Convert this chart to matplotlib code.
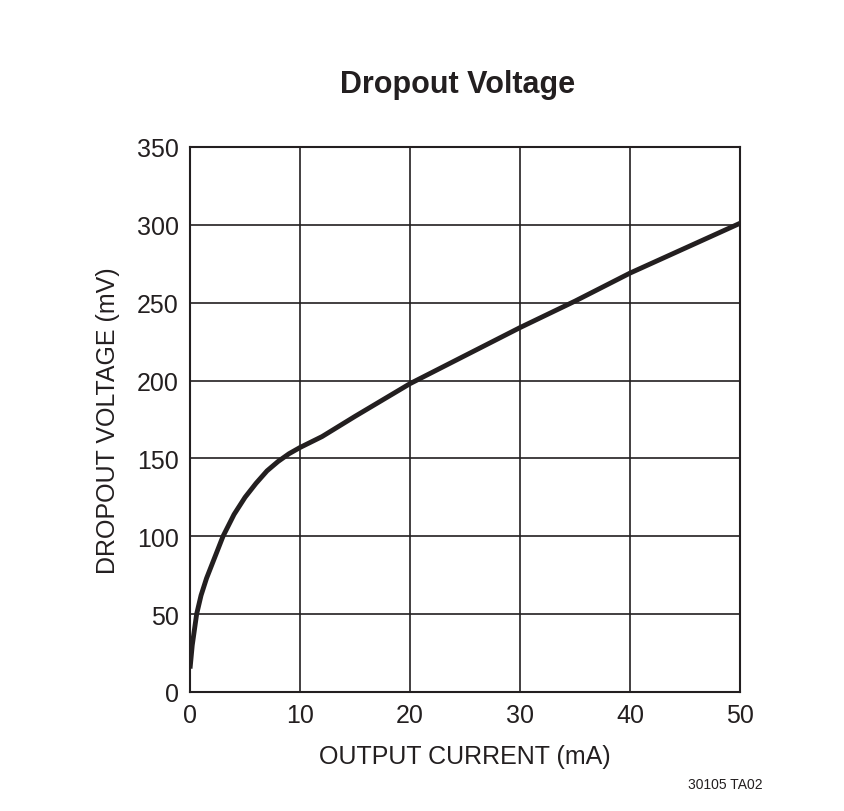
import matplotlib
matplotlib.use("Agg")
import matplotlib.pyplot as plt

current_ma = [0, 0.2, 0.6, 1.0, 1.5, 2.0, 3.0, 4.0, 5.0, 6.0, 7.0, 8.0, 9.0, 10, 12, 15, 20, 25, 30, 35, 40, 45, 50]
dropout_mv = [15, 30, 50, 62, 73, 82, 100, 114, 125, 134, 142, 148, 153, 157, 164, 177, 198, 216, 234, 251, 269, 285, 301]
x_ticks = [0, 10, 20, 30, 40, 50]
y_ticks = [0, 50, 100, 150, 200, 250, 300, 350]

fam = ['Liberation Sans Narrow', 'Liberation Sans', 'DejaVu Sans']
plt.rcParams['font.family'] = fam

fig = plt.figure(figsize=(8.45, 8.12), dpi=100)
ax = fig.add_axes([0.2249, 0.1466, 0.6509, 0.6712])
ax.plot(current_ma, dropout_mv, color='#231f20', lw=3.5, solid_capstyle='butt')
ax.set_xlim(0, 50)
ax.set_ylim(0, 350)
ax.set_xticks(x_ticks)
ax.set_yticks(y_ticks)
ax.grid(True, color='#231f20', lw=1.2)
for s in ax.spines.values():
    s.set_linewidth(1.5)
    s.set_color('#231f20')
ax.tick_params(length=0, labelsize=18, pad=8, colors='#231f20')
ax.set_xlabel('OUTPUT CURRENT (mA)', fontsize=18, color='#231f20', labelpad=12)
ax.set_ylabel('DROPOUT VOLTAGE (mV)', fontsize=18, color='#231f20', labelpad=12)
fig.text(0.542, 0.895, 'Dropout Voltage', ha='center', va='center', fontsize=22, fontweight='bold', color='#231f20')
fig.text(0.858, 0.033, '30105 TA02', ha='center', va='center', fontsize=10, color='#231f20')
fig.savefig('out.png', dpi=100)
